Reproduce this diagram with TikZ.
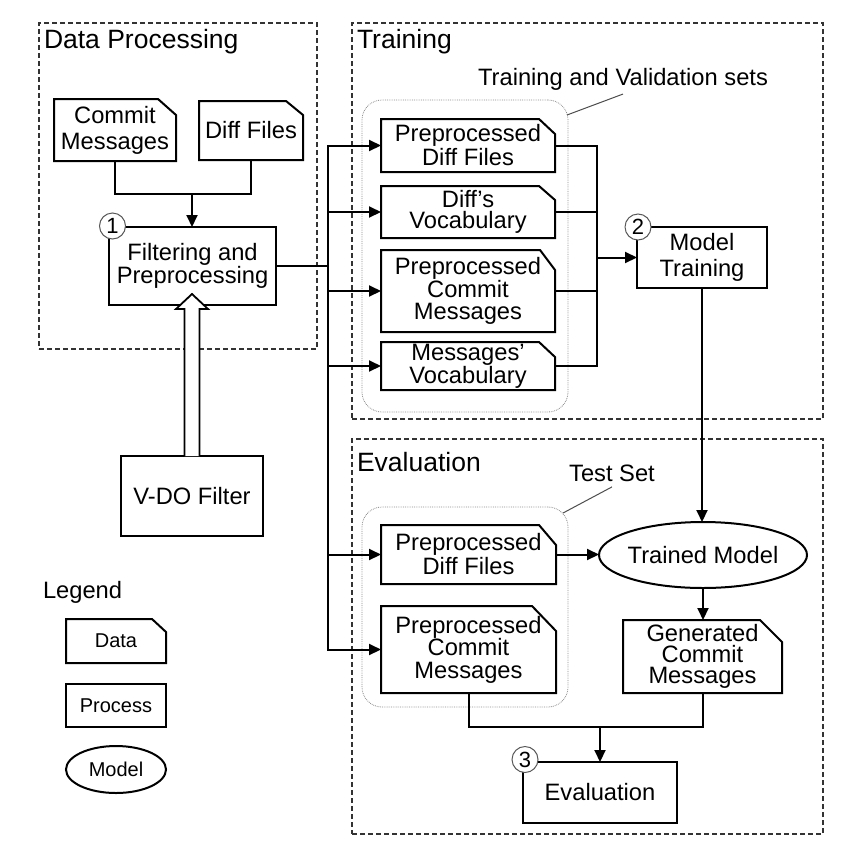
\documentclass[tikz,border=0pt]{standalone}
\usepackage{fontspec}
\setmainfont{Liberation Sans}
\usetikzlibrary{calc,shapes.geometric,arrows.meta}
\newcommand{\myfs}[2]{\fontsize{#1}{#2}\selectfont}
\newcommand{\docshape}[3]{\draw[line width=2pt] (#1.south west) -- (#1.north west) -- ($(#1.north east)+(-#2,0)$) -- ($(#1.north east)+(0,#3)$) -- (#1.south east) -- cycle;}
\begin{document}
\begin{tikzpicture}[x=1pt,y=-1pt,
 every node/.style={inner sep=0pt, outer sep=0pt},
 txt/.style={font=\myfs{23.7}{23}, align=center},
 docn/.style={txt},
 procn/.style={txt, draw, line width=2pt},
 modn/.style={txt, draw, ellipse, line width=2pt},
 region/.style={draw=black!80, line width=1.3pt, dash pattern=on 5pt off 3pt},
 group/.style={draw=black!45, line width=0.8pt, densely dotted, rounded corners=20pt},
 title/.style={font=\myfs{26.5}{28}, anchor=base west},
 num/.style={circle, draw=black!65, line width=1pt, fill=white, minimum size=26pt, font=\myfs{22}{22}},
 conn/.style={line width=2pt, line cap=rect},
 arr/.style={conn, -{Triangle[length=12pt,width=11pt]}},
 callout/.style={draw=black!70, line width=1pt},
]
\useasboundingbox (0,0) rectangle (866,854);

% regions
\node[region, anchor=north west, minimum width=278pt, minimum height=326pt] (rdp) at (39,23) {};
\node[region, anchor=north west, minimum width=471pt, minimum height=396pt] (rtr) at (352,23) {};
\node[region, anchor=north west, minimum width=471pt, minimum height=395pt] (rev) at (352,439) {};
\node[title] (tdp) at (44,48) {Data Processing};
\node[title] (ttr) at (357,48) {Training};
\node[title] (tev) at (357,471) {Evaluation};

% groups
\node[group, minimum width=206pt, minimum height=312pt] (gtr) at (465,256) {};
\node[group, minimum width=206pt, minimum height=200pt] (gte) at (465,607) {};
\node[txt] (ltr) at (623,79) {Training and Validation sets};
\node[txt] (lte) at (612,473.5) {Test Set};
\draw[callout] ($(ltr.south)+(0,4)$) -- ($(gtr.north east)+(-1,15)$);
\draw[callout] ($(lte.south)+(0,5)$) -- ($(gte.north east)+(-5,6)$);

% data processing
\node[docn, minimum width=122pt, minimum height=62pt, font=\myfs{23.7}{26}] (cm) at (115,130) {Commit\\Messages};
\docshape{cm}{18}{16}
\node[docn, minimum width=104pt, minimum height=59pt] (df) at (251,130.5) {Diff Files};
\docshape{df}{17}{14}
\node[procn, minimum width=167pt, minimum height=78pt] (filt) at (192.5,266) {Filtering and\\Preprocessing};
\node[procn, minimum width=142pt, minimum height=80pt] (vdo) at (192,496) {V-DO Filter};

% training
\node[docn, minimum width=174pt, minimum height=53pt, font=\myfs{23.7}{24}] (ptd) at (468,145.5) {Preprocessed\\Diff Files};
\docshape{ptd}{16}{15}
\node[docn, minimum width=174pt, minimum height=52pt, font=\myfs{23.7}{21}] (dv) at (468,212) {Diff's\\Vocabulary};
\docshape{dv}{16}{14}
\node[docn, minimum width=174pt, minimum height=82pt, font=\myfs{23.7}{22}] (ptc) at (468,291) {Preprocessed\\Commit\\Messages};
\docshape{ptc}{15}{20}
\node[docn, minimum width=174pt, minimum height=48pt, font=\myfs{23.7}{21}] (mv) at (468,366) {Messages'\\Vocabulary};
\docshape{mv}{16}{15}
\node[procn, minimum width=130pt, minimum height=61pt, font=\myfs{23.7}{26}] (mt) at (702,257.5) {Model\\Training};

% evaluation
\node[docn, minimum width=175pt, minimum height=59pt, font=\myfs{23.7}{24}] (ped) at (468.5,554.5) {Preprocessed\\Diff Files};
\docshape{ped}{17}{20}
\node[docn, minimum width=175pt, minimum height=87pt, font=\myfs{23.7}{22.5}] (pec) at (468.5,649.5) {Preprocessed\\Commit\\Messages};
\docshape{pec}{24}{25}
\node[modn, minimum width=208pt, minimum height=66pt, label={[txt]center:Trained Model}] (tm) at (703,555) {};
\node[docn, minimum width=159pt, minimum height=73pt, font=\myfs{23.7}{21}] (gen) at (702.5,656.5) {Generated\\Commit\\Messages};
\docshape{gen}{22}{22}
\node[procn, minimum width=154pt, minimum height=61pt] (ev) at (600,792.5) {Evaluation};

% legend
\node[txt, anchor=base west] (leg) at (43,598) {Legend};
\node[docn, font=\myfs{20}{20}, minimum width=100pt, minimum height=44pt] (ld) at (116,641) {Data};
\docshape{ld}{14}{13}
\node[procn, font=\myfs{20}{20}, minimum width=100pt, minimum height=43pt] (lp) at (116,705.5) {Process};
\node[modn, font=\myfs{20}{20}, minimum width=100pt, minimum height=47pt] (lm) at (116,769.5) {Model};

% connectors
\coordinate (j1) at (192,194);
\draw[conn] (cm.south) |- (j1) -| (df.south);
\draw[arr] (j1) -- (j1 |- filt.north);

\coordinate (bus) at (328,0);
\draw[conn] (filt.east) -- (filt.east -| bus);
\draw[conn] (bus |- ptd.west) -- (bus |- pec.west);
\foreach \n in {ptd,dv,ptc,mv,ped,pec} \draw[arr] (bus |- \n.west) -- (\n.west);

\coordinate (col) at (597,0);
\foreach \n in {ptd,dv,ptc,mv} \draw[conn] (\n.east) -- (col |- \n.east);
\draw[conn] (col |- ptd.east) -- (col |- mv.east);
\draw[arr] (col |- mt.west) -- (mt.west);

\draw[arr] (mt.south) -- (mt.south |- tm.north);
\draw[arr] (ped.east) -- (ped.east -| tm.west);
\draw[arr] (tm.south) -- (tm.south |- gen.north);
\coordinate (j2) at (600,727);
\draw[conn] (pec.south) |- (j2) -| (gen.south);
\draw[arr] (j2) -- (j2 |- ev.north);

% hollow arrow from V-DO filter
\draw[line width=1.8pt, fill=white, line join=miter] ($(vdo.north)+(-7.5,0)$) -- ++(0,-147) -- ++(-8.5,0) -- ++(16,-15) -- ++(16,15) -- ++(-8.5,0) -- ++(0,147);

% step numbers
\node[num] (n1) at ($(filt.north west)+(3.5,-1)$) {1};
\node[num] (n2) at ($(mt.north west)+(1,0)$) {2};
\node[num] (n3) at ($(ev.north west)+(2,-2.5)$) {3};
\end{tikzpicture}
\end{document}
